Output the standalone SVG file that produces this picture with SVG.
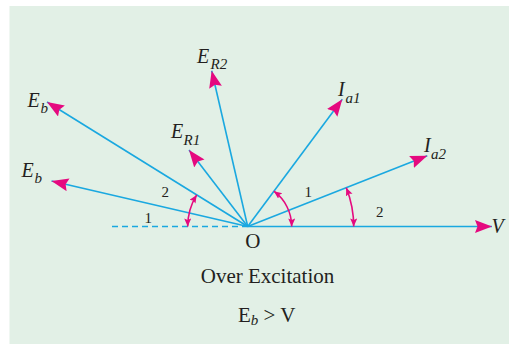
<svg xmlns="http://www.w3.org/2000/svg" width="509" height="344" viewBox="0 0 509 344">
<style>
.vec{stroke:#1aa8e0;stroke-width:1.6;fill:none;marker-end:url(#big)}
.arc{stroke:#e5097f;stroke-width:1.6;fill:none;marker-start:url(#small);marker-end:url(#small)}
.lbl{font-family:"Liberation Serif","Times New Roman",serif;font-style:italic;font-size:20px;fill:#231f20}
.sub{font-family:"Liberation Serif","Times New Roman",serif;font-style:italic;font-size:15px;fill:#231f20}
.num{font-family:"Liberation Serif","Times New Roman",serif;font-size:15px;fill:#231f20}
.txt{font-family:"Liberation Serif","Times New Roman",serif;font-size:21px;fill:#231f20}
</style>
<defs>
<marker id="big" markerUnits="userSpaceOnUse" markerWidth="20" markerHeight="14" refX="17" refY="6.5" orient="auto">
<path d="M0,0 L17,6.5 L0,13 L2.5,6.5 z" fill="#e5097f"/>
</marker>
<marker id="small" markerUnits="userSpaceOnUse" markerWidth="10" markerHeight="8" refX="8" refY="3.5" orient="auto-start-reverse">
<path d="M0,0 L8,3.5 L0,7 L1.5,3.5 z" fill="#e5097f"/>
</marker>
</defs>
<rect x="9.5" y="6" width="500" height="338" fill="#e2f0e6"/>
<g id="connectors">
<line x1="112" y1="226.5" x2="247.7" y2="226.5" stroke="#1aa8e0" stroke-width="1.6" stroke-dasharray="6,4"/>
<line class="vec" x1="247.7" y1="226.5" x2="492" y2="226.5"/>
<line class="vec" x1="247.7" y1="226.5" x2="47" y2="102"/>
<line class="vec" x1="247.7" y1="226.5" x2="51.5" y2="181"/>
<line class="vec" x1="247.7" y1="226.5" x2="189" y2="150"/>
<line class="vec" x1="247.7" y1="226.5" x2="211.7" y2="70.7"/>
<line class="vec" x1="247.7" y1="226.5" x2="342.3" y2="99.3"/>
<line class="vec" x1="247.7" y1="226.5" x2="427.3" y2="155.7"/>
<path class="arc" d="M187.7,226.5 A60,60 0 0,1 196.7,194.9"/>
<path class="arc" d="M291.7,226.5 A44,44 0 0,0 273.9,191.2"/>
<path class="arc" d="M353.7,226.5 A106,106 0 0,0 346.3,187.7"/>
</g>
<g id="label-V"><text class="lbl" x="491.5" y="233.3">V</text></g>
<g id="label-Eb1"><text class="lbl" x="27.5" y="107">E</text><text class="sub" x="40.5" y="113">b</text></g>
<g id="label-Eb2"><text class="lbl" x="21.5" y="177">E</text><text class="sub" x="34.5" y="183.3">b</text></g>
<g id="label-ER1"><text class="lbl" x="171" y="137.7">E</text><text class="sub" x="183.5" y="145">R1</text></g>
<g id="label-ER2"><text class="lbl" x="197" y="62.7">E</text><text class="sub" x="210.5" y="69.3">R2</text></g>
<g id="label-Ia1"><text class="lbl" x="338" y="96">I</text><text class="sub" x="345.5" y="102.7">a1</text></g>
<g id="label-Ia2"><text class="lbl" x="424" y="151.7">I</text><text class="sub" x="431" y="159.3">a2</text></g>
<g id="label-O"><text class="txt" x="245.3" y="248.3" font-size="20">O</text></g>
<g id="angles">
<text class="num" x="161.5" y="197">2</text>
<text class="num" x="144.5" y="223">1</text>
<text class="num" x="304.5" y="197">1</text>
<text class="num" x="376" y="217">2</text>
</g>
<g id="caption">
<text class="txt" x="267.5" y="283" text-anchor="middle" font-size="22">Over Excitation</text>
<text class="txt" x="238" y="321.7">E<tspan class="sub" font-style="italic" font-size="15" dy="3.3">b</tspan><tspan dy="-3.3"> &gt; V</tspan></text>
</g>
</svg>
